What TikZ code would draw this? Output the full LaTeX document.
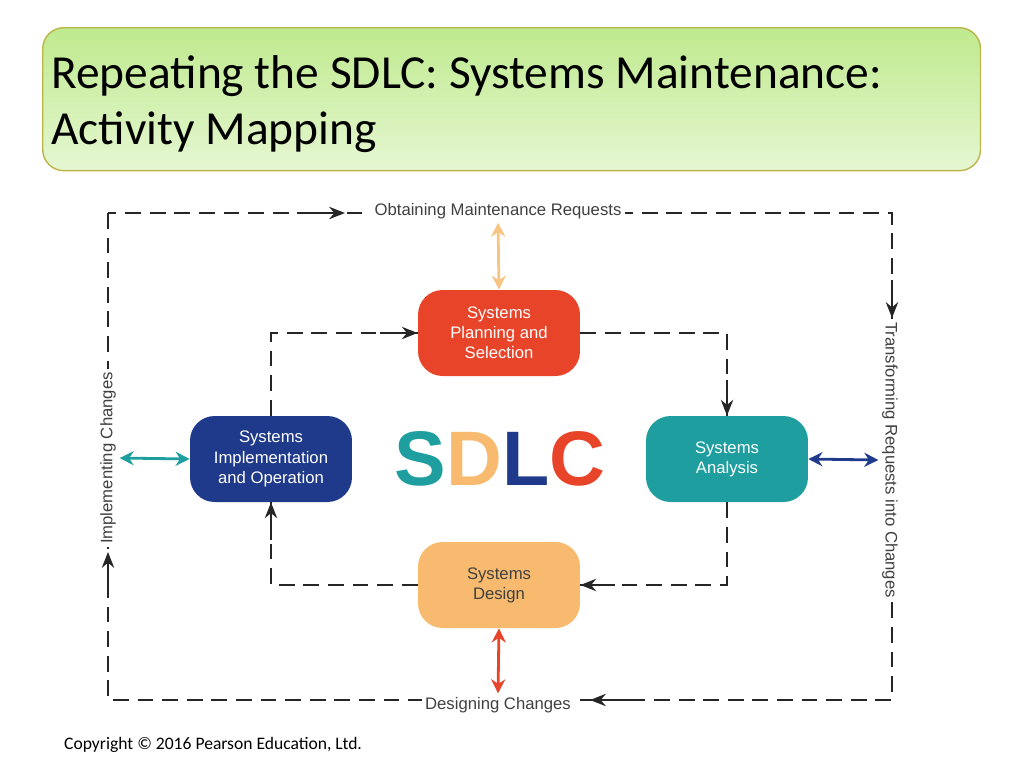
\documentclass[tikz,border=0pt]{standalone}
\usepackage{fontspec}
\setmainfont{Carlito}
\newfontfamily\arialish{Liberation Sans}
\usetikzlibrary{arrows.meta}
\definecolor{sdlcred}{HTML}{E8442A}
\definecolor{sdlcteal}{HTML}{1E9E9E}
\definecolor{sdlcorange}{HTML}{F7BA6E}
\definecolor{sdlcnavy}{HTML}{1F3A8A}
\definecolor{titlegreen}{HTML}{BFEA8E}
\begin{document}
\begin{tikzpicture}[x=0.02cm, y=-0.02cm,
        phase/.style={rounded corners=14pt, minimum width=3.24cm, minimum height=1.72cm, text=white, align=center, font=\arialish\fontsize{9.5}{11.5}\selectfont},
        edge/.style={fill=white, inner sep=2pt, text=black!75, font=\arialish\fontsize{9.5}{11}\selectfont},
        dashline/.style={dashed, dash pattern=on 9pt off 5pt, line width=1.3pt, black!85},
        flow/.style={-{Stealth[length=9pt,width=7pt]}, line width=1.3pt, black!85},
        both/.style={{Stealth[length=8pt,width=8pt]}-{Stealth[length=8pt,width=8pt]}, line width=1.6pt}
    ]
    \useasboundingbox (0,0) rectangle (1024,768);

    % title banner
    \node[draw=olive!60, line width=0.8pt, rounded corners=12pt, top color=titlegreen, bottom color=titlegreen!40,
          minimum width=18.76cm, minimum height=2.86cm, anchor=north west] (title) at (42,27) {};
    \node[anchor=west, align=left, font=\fontsize{27}{32}\selectfont] (titletext) at (45,104)
        {Repeating the SDLC: Systems Maintenance:\\Activity Mapping};

    % outer maintenance loop
    \coordinate (otl) at (108,213);
    \coordinate (obr) at (892,700);
    \draw[dashline] (otl) rectangle (obr);
    \draw[flow] (300,213) -- (345,213);
    \draw[flow] (892,280) -- (892,318);
    \draw[flow] (630,700) -- (590,700);
    \draw[flow] (108,590) -- (108,552);
    \node[edge] (obtain) at (498,211) {Obtaining Maintenance Requests};
    \node[edge, rotate=-90] (transform) at (890,460) {Transforming Requests into Changes};
    \node[edge] (designch) at (498,705) {Designing Changes};
    \node[edge, rotate=90] (implch) at (108,458) {Implementing Changes};

    % phases
    \node[phase, fill=sdlcred] (plan) at (499,333) {Systems\\Planning and\\Selection};
    \node[phase, fill=sdlcteal] (analysis) at (727,459) {Systems\\Analysis};
    \node[phase, fill=sdlcorange, text=black!75] (design) at (499,585) {Systems\\Design};
    \node[phase, fill=sdlcnavy] (impl) at (271,459) {Systems\\Implementation\\and Operation};
    \node[font=\arialish\bfseries\fontsize{44}{44}\selectfont] (sdlc) at (500,459)
        {\textcolor{sdlcteal}{S}\textcolor{sdlcorange}{D}\textcolor{sdlcnavy}{L}\textcolor{sdlcred}{C}};

    % inner cycle
    \draw[dashline] (impl.north) |- (plan.west);
    \draw[flow] (380,333) -- (plan.west);
    \draw[dashline] (plan.east) -| (analysis.north);
    \draw[flow] (727,380) -- (analysis.north);
    \draw[dashline] (analysis.south) |- (design.east);
    \draw[flow] (615,585) -- (design.east);
    \draw[dashline] (design.west) -| (impl.south);
    \draw[flow] (271,540) -- (impl.south);

    % links to the outer loop
    \draw[both, sdlcorange!85] (plan.north) -- (obtain.south);
    \draw[both, sdlcred] (design.south) -- (designch.north);
    \draw[both, sdlcteal] (impl.west) -- (implch.south);
    \draw[both, sdlcnavy] (analysis.east) -- (transform.south);

    \node[anchor=west, font=\fontsize{10}{12}\selectfont] (copy) at (58,745) {Copyright © 2016 Pearson Education, Ltd.};
\end{tikzpicture}
\end{document}
